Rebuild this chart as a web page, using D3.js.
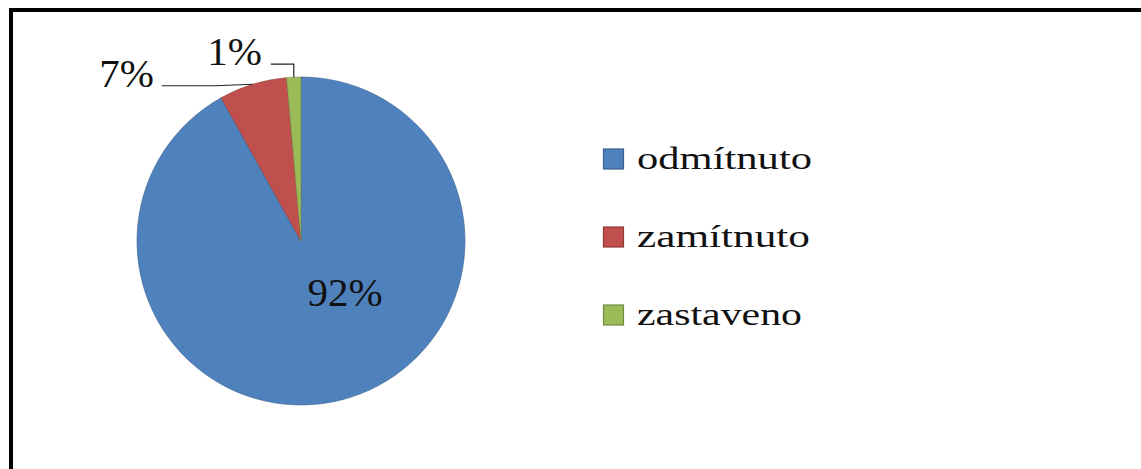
<!DOCTYPE html>
<html>
<head>
<meta charset="utf-8">
<script src="https://cdn.jsdelivr.net/npm/d3@7"></script>
<style>
  html, body { margin: 0; padding: 0; background: #fff; }
  svg { display: block; }
  text { font-family: "Liberation Serif", "DejaVu Serif", serif; fill: #111; }
</style>
</head>
<body>
<svg id="chart" width="1141" height="469"></svg>
<script>
// data
const categories = ['odmítnuto', 'zamítnuto', 'zastaveno']
const values = [91.9, 6.7, 1.4]
const labels = ['92%', '7%', '1%']
const colors = ['#4F81BD', '#C0504D', '#9BBB59']
const borders = ['#3A6190', '#8E3A38', '#728B42']

const width = 1141
const height = 469
const cx = 301
const cy = 241
const radius = 164

const svg = d3.select('#chart')

// frame (runs off the right and bottom in the original)
svg.append('rect')
    .attr('x', 11).attr('y', 10)
    .attr('width', width + 20).attr('height', height + 20)
    .attr('fill', 'none')
    .attr('stroke', '#000')
    .attr('stroke-width', 4)

const pie = d3.pie().sort(null).value(d => d)
const arcs = pie(values)
const arc = d3.arc().innerRadius(0).outerRadius(radius)

const g = svg.append('g').attr('transform', `translate(${cx},${cy})`)

g.selectAll('path.slice').data(arcs).enter().append('path')
    .attr('class', 'slice')
    .attr('d', arc)
    .attr('fill', (d, i) => colors[i])
    .attr('stroke', (d, i) => borders[i])
    .attr('stroke-width', 0.6)

// point on the rim at the middle of a slice
function rim(d) {
    const a = (d.startAngle + d.endAngle) / 2
    return [radius * Math.sin(a), -radius * Math.cos(a)]
}

// label inside the big slice
g.append('text')
    .attr('x', 44).attr('y', 65)
    .attr('text-anchor', 'middle')
    .attr('font-size', 41)
    .text(labels[0])

// 7% with a long horizontal leader
const p1 = rim(arcs[1])
g.append('path')
    .attr('d', `M${p1[0]},${p1[1]} L${p1[0] - 38},${p1[1] + 1.5} L${p1[0] - 91},${p1[1] + 1.5}`)
    .attr('fill', 'none').attr('stroke', '#222').attr('stroke-width', 1.2)
g.append('text')
    .attr('x', p1[0] - 99).attr('y', p1[1] + 3)
    .attr('text-anchor', 'end')
    .attr('font-size', 41)
    .text(labels[1])

// 1% with an elbow leader
const p2 = rim(arcs[2])
g.append('path')
    .attr('d', `M${p2[0]},${p2[1]} L${p2[0]},${p2[1] - 13} L${p2[0] - 23},${p2[1] - 13}`)
    .attr('fill', 'none').attr('stroke', '#222').attr('stroke-width', 1.2)
g.append('text')
    .attr('x', p2[0] - 32).attr('y', p2[1] - 12)
    .attr('text-anchor', 'end')
    .attr('font-size', 41)
    .text(labels[2])

// legend
const legendY = d3.scalePoint().domain(categories).range([159, 315])
const textWidths = [175, 173, 165]

const legend = svg.selectAll('g.legend').data(categories).enter().append('g')
    .attr('class', 'legend')
    .attr('transform', d => `translate(603,${legendY(d)})`)

legend.append('rect')
    .attr('x', 0.5).attr('y', -10)
    .attr('width', 20).attr('height', 20)
    .attr('fill', (d, i) => colors[i])
    .attr('stroke', (d, i) => borders[i])
    .attr('stroke-width', 1.2)

legend.append('text')
    .attr('x', 34).attr('y', 10)
    .attr('font-size', 31)
    .attr('textLength', (d, i) => textWidths[i])
    .attr('lengthAdjust', 'spacingAndGlyphs')
    .text(d => d)
</script>
</body>
</html>
